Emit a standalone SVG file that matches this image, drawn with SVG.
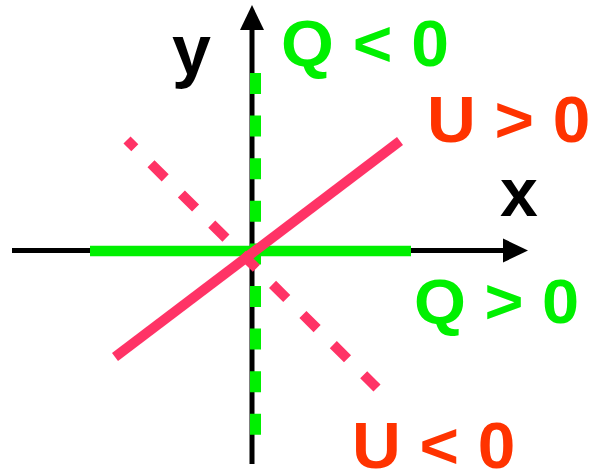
<svg xmlns="http://www.w3.org/2000/svg" width="589" height="473" viewBox="0 0 589 473">
<style>
.axis{stroke:#000;stroke-width:5;fill:none}
.head{fill:#000}
.lbl{font-family:"Liberation Sans",Arial,sans-serif;font-weight:bold}
.g{fill:#00f000}
.r{fill:#ff3300}
.k{fill:#000}
</style>
<rect width="589" height="473" fill="#fff"/>
<g id="connectors">
<g id="x-axis">
<line class="axis" x1="12" y1="250.5" x2="505" y2="250.5"/>
<polygon class="head" points="528,250.5 503,238.5 503,262.5"/>
</g>
<g id="y-axis">
<line class="axis" x1="252" y1="464" x2="252" y2="28"/>
<polygon class="head" points="252,5 240,30 264,30"/>
</g>
<line id="q-neg" x1="255.5" y1="73" x2="255.5" y2="436" stroke="#00f000" stroke-width="11" stroke-dasharray="21 21.6"/>
<line id="q-pos" x1="90" y1="251" x2="411" y2="251" stroke="#00f000" stroke-width="10.5"/>
<line id="u-neg" x1="127" y1="140" x2="377" y2="388" stroke="#ff3366" stroke-width="10" stroke-dasharray="20 22.8" stroke-dashoffset="9"/>
<line id="u-pos" x1="115" y1="357" x2="400" y2="141" stroke="#ff3366" stroke-width="10"/>
</g>
<g id="label-y"><text class="lbl k" x="172" y="74" font-size="70">y</text></g>
<g id="label-x"><text class="lbl k" x="500" y="216" font-size="68">x</text></g>
<g id="label-q-neg"><text class="lbl g" font-size="65" transform="translate(281,66) scale(1.045,1)">Q &lt; 0</text></g>
<g id="label-u-pos"><text class="lbl r" font-size="65" transform="translate(427,142) scale(1.04,1)">U &gt; 0</text></g>
<g id="label-q-pos"><text class="lbl g" font-size="63" transform="translate(414,323) scale(1.06,1)">Q &gt; 0</text></g>
<g id="label-u-neg"><text class="lbl r" font-size="65" transform="translate(352,468) scale(1.04,1)">U &lt; 0</text></g>
</svg>
